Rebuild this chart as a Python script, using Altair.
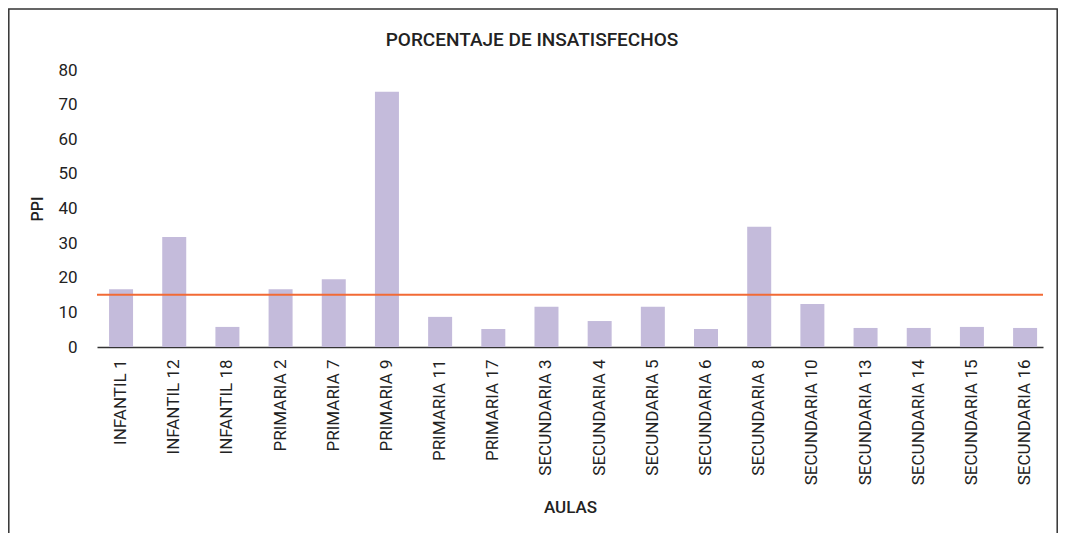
import altair as alt
import pandas as pd

aulas = ["INFANTIL 1", "INFANTIL 12", "INFANTIL 18", "PRIMARIA 2", "PRIMARIA 7", "PRIMARIA 9",
         "PRIMARIA 11", "PRIMARIA 17", "SECUNDARIA 3", "SECUNDARIA 4", "SECUNDARIA 5",
         "SECUNDARIA 6", "SECUNDARIA 8", "SECUNDARIA 10", "SECUNDARIA 13", "SECUNDARIA 14",
         "SECUNDARIA 15", "SECUNDARIA 16"]
ppi = [16.7, 31.8, 5.8, 16.7, 19.6, 73.7, 8.7, 5.2, 11.6, 7.5, 11.6, 5.2, 34.7, 12.4, 5.5, 5.5, 5.8, 5.5]
umbral = [15.1]
y_ticks = [0, 10, 20, 30, 40, 50, 60, 70, 80]
titulo = "PORCENTAJE DE INSATISFECHOS"

FONT = "Roboto, sans-serif"
W, H = 946, 277

df = pd.DataFrame({"aula": aulas, "ppi": ppi})
ref = pd.DataFrame({"v": umbral})

y_scale = alt.Scale(domain=[0, 80], nice=False)
y_axis = alt.Axis(values=y_ticks, tickCount=9, domain=False, ticks=False, grid=False,
                  labelOverlap=False, labelPadding=20, labelFont=FONT,
                  labelFontSize=17, labelColor="#222222",
                  titleFont=FONT, titleFontSize=16, titleFontWeight=500,
                  titleColor="#222222", titlePadding=12)

bars = alt.Chart(df).mark_bar(color="#C4BBDB", width=24).encode(
    x=alt.X("aula:N", sort=aulas, title="AULAS",
            scale=alt.Scale(paddingInner=0.5, paddingOuter=0.1445, align=0.7),
            axis=alt.Axis(labelAngle=-90, labelAlign="right", labelBaseline="middle",
                          labelPadding=12, ticks=False, domainColor="#333333", domainWidth=1.5,
                          labelFont=FONT, labelFontSize=17, labelColor="#222222",
                          titleFont=FONT, titleFontSize=17, titleFontWeight=500,
                          titleColor="#222222", titlePadding=15)),
    y=alt.Y("ppi:Q", title="PPI", scale=y_scale, axis=y_axis),
)

line = alt.Chart(ref).mark_rule(color="#F26A35", strokeWidth=2).encode(
    y=alt.Y("v:Q", title="PPI", scale=y_scale, axis=y_axis)
)

frame = alt.Chart(ref).mark_rect(fill=None, stroke="#333333", strokeWidth=1.5).encode(
    x=alt.value(-88.2), x2=alt.value(960.2), y=alt.value(-61), y2=alt.value(H + 250)
)

title = alt.Chart(ref).mark_text(font=FONT, fontSize=19, fontWeight=500, color="#222222",
                                 align="center", baseline="middle").encode(
    x=alt.value(435), y=alt.value(-30), text=alt.value(titulo)
)

chart = alt.layer(frame, title, bars, line).properties(
    width=W, height=H,
    background="white",
    autosize=alt.AutoSizeParams(type="none"),
    padding={"left": 89, "top": 62, "right": 15, "bottom": 186},
).configure_view(stroke=None)

chart.save("out.html", embed_options={"renderer": "svg", "actions": False})
